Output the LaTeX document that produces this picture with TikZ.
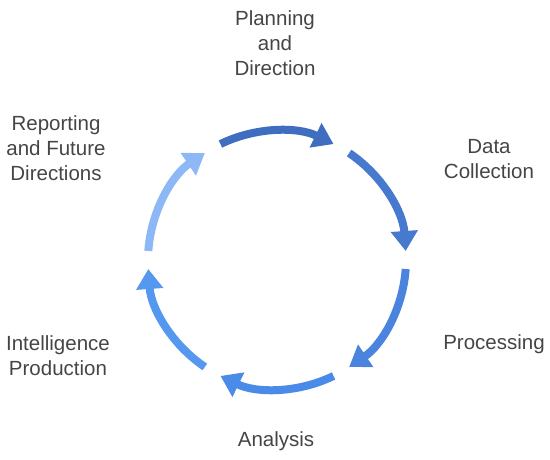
\documentclass[tikz,border=0pt]{standalone}
\usepackage{fontspec}
\setmainfont{Liberation Sans}
\usetikzlibrary{arrows.meta}

\definecolor{textgray}{HTML}{454545}
\definecolor{arrowA}{HTML}{3F6EC0}
\definecolor{arrowB}{HTML}{4779CE}
\definecolor{arrowC}{HTML}{4A84DE}
\definecolor{arrowD}{HTML}{4A8BEA}
\definecolor{arrowE}{HTML}{5698F0}
\definecolor{arrowF}{HTML}{8CB8F5}

\begin{document}
\begin{tikzpicture}[x=1pt, y=1pt,
    phasetext/.style={align=center, text=textgray,
      font=\fontsize{20.5}{25}\selectfont},
    cyclearrow/.style={line width=8pt, -{Triangle[length=20pt, width=26pt]},
      bend left=26, looseness=.9}]

  \useasboundingbox (0,0) rectangle (550,459);

  \def\radius{129}
  \def\gap{26}
  \coordinate (o) at (277,199);

  % start and end of each arc on the circle
  \foreach \a [count=\i] in {90, 30, -30, -90, -150, 150} {
    \coordinate (s\i) at ([shift={(\a+\gap:\radius)}]o);
    \coordinate (e\i) at ([shift={(\a-\gap:\radius)}]o);
  }

  \foreach \i/\c in {1/arrowA, 2/arrowB, 3/arrowC, 4/arrowD, 5/arrowE, 6/arrowF}
    \draw[cyclearrow, color=\c] (s\i) to (e\i);

  \node[phasetext] (planning)   at (275,416) {Planning\\and\\Direction};
  \node[phasetext] (collection) at (489,300) {Data\\Collection};
  \node[phasetext] (processing) at (494,115) {Processing};
  \node[phasetext] (analysis)   at (276,18)  {Analysis};
  \node[phasetext] (production) at (58,103)  {Intelligence\\Production};
  \node[phasetext] (reporting)  at (56,311)  {Reporting\\and Future\\Directions};

\end{tikzpicture}
\end{document}
